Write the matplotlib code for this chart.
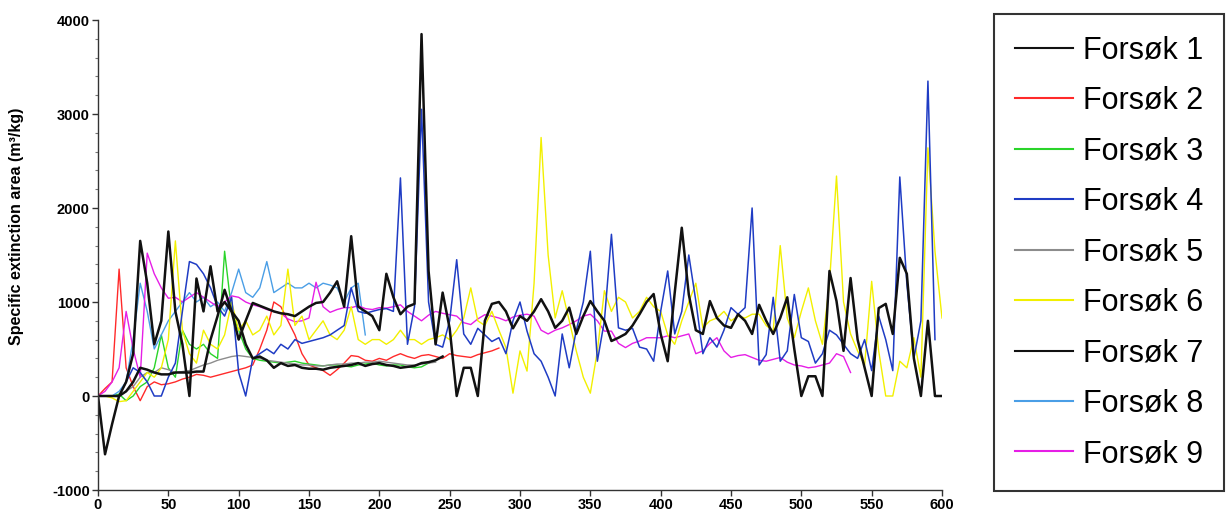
import matplotlib.pyplot as plt
import numpy as np

plt.rcParams['axes.unicode_minus'] = False

# Sampling every 5 s
STEP = 5

forsok1 = [0, -620, -300, 0, 150, 450, 1650, 1200, 550, 800, 1750, 900, 550, 0, 1250, 900,
           1380, 900, 1000, 900, 800, 550, 400, 420, 380, 300, 350, 320, 330, 300, 290, 290,
           280, 300, 310, 320, 330, 350, 320, 340, 350, 330, 320, 300, 310, 320, 350, 360,
           380, 420]
forsok2 = [0, 80, 150, 1350, 300, 100, -50, 100, 150, 120, 130, 150, 180, 200, 230, 220,
           200, 220, 240, 260, 280, 300, 330, 500, 700, 1000, 950, 800, 650, 450, 330, 300,
           270, 220, 280, 350, 430, 420, 380, 370, 400, 380, 420, 450, 420, 400, 430, 440,
           420, 400, 450, 430, 420, 410, 440, 460, 480, 510]
forsok3 = [0, 0, 0, 20, -50, 0, 100, 150, 300, 650, 300, 200, 700, 550, 500, 550,
           450, 400, 1540, 900, 700, 500, 400, 380, 370, 360, 350, 360, 370, 350, 340, 330,
           320, 330, 330, 320, 310, 330, 340, 350, 330, 320, 330, 330, 310, 300, 310, 350,
           380]
forsok4 = [0, 0, 0, 0, 150, 300, 250, 150, 0, 0, 200, 350, 900, 1430, 1400, 1300,
           1150, 950, 850, 1050, 250, 0, 400, 450, 500, 450, 550, 500, 600, 560, 580, 600,
           620, 650, 700, 750, 1150, 900, 880, 900, 920, 930, 900, 2320, 550, 950, 3050, 1000,
           550, 520, 800, 1450, 660, 550, 720, 650, 580, 620, 450, 800, 1000, 690, 450, 370,
           200, 0, 660, 300, 700, 1000, 1540, 370, 800, 1720, 725, 700, 720, 520, 500, 370,
           900, 1330, 660, 900, 1500, 1010, 450, 620, 520, 700, 940, 870, 940, 2000, 330, 440,
           1050, 370, 480, 1080, 620, 580, 350, 450, 700, 650, 550, 450, 400, 600, 270, 850,
           600, 270, 2330, 1200, 400, 800, 3350, 600]
forsok5 = [0, 0, 0, 0, 50, 100, 200, 250, 250, 300, 280, 250, 260, 270, 300, 330,
           350, 380, 400, 420, 430, 420, 410, 400, 380, 370, 360, 350, 340, 330, 330, 320,
           320, 330, 340, 340, 350, 350, 360, 360, 370, 360, 350, 340, 330, 330, 340, 350,
           360]
forsok6 = [0, 0, -20, -60, -50, 50, 150, 250, 200, 300, 600, 1650, 700, 450, 350, 700,
           550, 500, 650, 1000, 700, 800, 650, 700, 850, 650, 750, 1350, 750, 850, 600, 700,
           800, 650, 600, 700, 950, 600, 550, 600, 600, 550, 600, 700, 600, 600, 550, 600,
           620, 650, 600, 700, 830, 1150, 800, 750, 900, 700, 515, 30, 480, 265, 1200, 2750,
           1500, 830, 1120, 800, 480, 200, 30, 480, 1120, 900, 1050, 1000, 830, 900, 1050, 950,
           900, 650, 550, 800, 1000, 1200, 725, 800, 830, 900, 800, 850, 830, 870, 870, 750,
           690, 1600, 830, 620, 900, 1150, 800, 550, 1200, 2340, 1000, 660, 480, 330, 1220, 480,
           0, 0, 370, 300, 620, 200, 2640, 1540, 830]
forsok7 = [0, 0, 0, 0, 50, 150, 300, 280, 250, 230, 230, 250, 250, 250, 260, 260,
           600, 850, 1130, 900, 600, 800, 990, 960, 930, 900, 880, 870, 850, 900, 950, 990,
           1000, 1100, 1220, 950, 1700, 950, 900, 850, 700, 1300, 1050, 870, 950, 980, 3850, 1330,
           550, 1100, 720, 0, 300, 300, 0, 800, 980, 1000, 900, 720, 850, 800, 900, 1030,
           900, 725, 800, 940, 660, 850, 1010, 900, 800, 585, 620, 660, 750, 870, 1000, 1085,
           660, 370, 1100, 1790, 1080, 700, 660, 1010, 830, 750, 725, 870, 800, 660, 970, 800,
           660, 830, 1050, 500, 0, 210, 210, 0, 1330, 1010, 480, 1255, 600, 300, 0, 935,
           980, 660, 1470, 1300, 400, 0, 800, 0, 0]
forsok8 = [0, 0, 0, 50, 150, 600, 1200, 900, 500, 650, 800, 900, 1000, 1100, 1000, 1050,
           950, 1000, 900, 1100, 1350, 1100, 1050, 1150, 1430, 1100, 1150, 1200, 1150, 1150, 1200, 1150,
           1200, 1180, 1150, 1000, 1150, 1200, 650]
forsok9 = [0, 50, 150, 300, 900, 500, 200, 1520, 1300, 1150, 1040, 1050, 1000, 1050, 1100, 1050,
           1000, 950, 1000, 1065, 1050, 1000, 970, 950, 920, 900, 880, 820, 790, 800, 830, 1210,
           950, 890, 920, 940, 940, 960, 930, 920, 940, 935, 950, 970, 900, 850, 800, 860,
           900, 880, 865, 850, 780, 760, 820, 865, 850, 830, 800, 840, 860, 870, 850, 700,
           660, 700, 725, 760, 800, 850, 870, 800, 690, 690, 560, 515, 560, 585, 620, 620,
           620, 640, 620, 640, 660, 450, 480, 560, 620, 480, 410, 430, 440, 410, 380, 370,
           390, 410, 360, 330, 320, 300, 310, 330, 350, 450, 420, 250]

labels = ['Forsøk 1', 'Forsøk 2', 'Forsøk 3', 'Forsøk 4', 'Forsøk 5',
          'Forsøk 6', 'Forsøk 7', 'Forsøk 8', 'Forsøk 9']
series = [forsok1, forsok2, forsok3, forsok4, forsok5, forsok6, forsok7, forsok8, forsok9]
colors = ['#111111', '#ff2a2a', '#2ad42a', '#1f3cc4', '#8c8c8c',
          '#f2f000', '#111111', '#4a9ee6', '#e61ee6']
widths = [1.8, 1.0, 1.0, 1.1, 1.0, 1.0, 1.8, 1.0, 1.0]
# draw order so the black runs sit on top like in the scan
order = [1, 2, 4, 7, 8, 5, 3, 0, 6]

fig = plt.figure(figsize=(12.26, 5.15), dpi=100)
ax = fig.add_axes([98 / 1226, 1 - 490 / 515, 844 / 1226, 470 / 515])

handles = [None] * 9
for i in order:
    t = np.arange(len(series[i])) * STEP
    line, = ax.plot(t, series[i], color=colors[i], lw=widths[i], label=labels[i])
    handles[i] = line

ax.set_xlim(0, 600)
ax.set_ylim(-1000, 4000)
ax.set_xticks(np.arange(0, 601, 50))
ax.set_yticks(np.arange(-1000, 4001, 1000))
ax.set_yticks(np.arange(-1000, 4001, 200), minor=True)
ax.spines['top'].set_visible(False)
ax.spines['right'].set_visible(False)
for s in ['left', 'bottom']:
    ax.spines[s].set_color('#333333')
    ax.spines[s].set_linewidth(1.0)
ax.tick_params(axis='both', which='major', length=4, width=1, color='#333333',
               labelsize=10.5, pad=2)
ax.tick_params(axis='y', which='minor', length=2, width=0.8, color='#777777')
for lab in ax.get_xticklabels() + ax.get_yticklabels():
    lab.set_fontweight('bold')
    lab.set_family('Liberation Sans')

ax.set_ylabel('Specific extinction area (m³/kg)', fontsize=11.5, fontweight='bold',
              family='Liberation Sans')
ax.yaxis.set_label_coords(-0.088, 0.56)

leg = fig.legend(handles=handles, loc='upper left', bbox_to_anchor=(994 / 1226, 1 - 14 / 515),
                 frameon=True, fancybox=False, edgecolor='black',
                 prop={'family': 'Liberation Sans', 'size': 22},
                 handlelength=1.9, handletextpad=0.3, labelspacing=0.67,
                 borderpad=0.7, borderaxespad=0)
leg.get_frame().set_linewidth(1.5)
for h in leg.legend_handles:
    h.set_linewidth(1.5)

fig.savefig('out.png', dpi=100)
